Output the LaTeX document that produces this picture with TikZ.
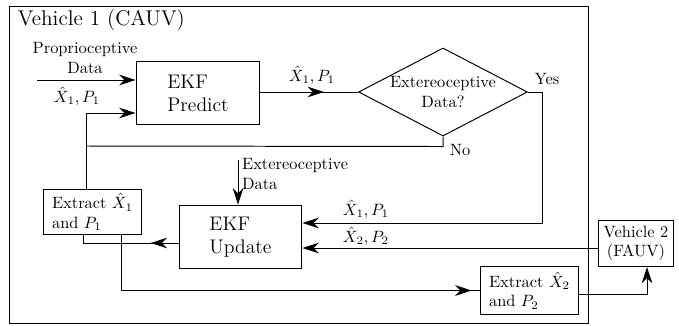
\documentclass[tikz,border=0pt]{standalone}
\usetikzlibrary{arrows.meta,shapes.geometric,decorations.markings}

\tikzset{
  block/.style={draw,rectangle,align=left},
  mid arrow/.style={postaction={decorate},decoration={markings,
    mark=at position #1 with {\arrow{Stealth[length=10pt,width=6.5pt]}}}},
}

\begin{document}
\begin{tikzpicture}[x=0.61pt,y=-0.61pt,semithick,>={Stealth[length=10pt,width=6.5pt]}]
\useasboundingbox (0,0) rectangle (679,325);
\draw (9,6) rectangle (588,323);
\node[anchor=west,font=\fontsize{13}{16}\selectfont] (title) at (12,20) {Vehicle 1 (CAUV)};

% blocks
\node[block,minimum width=75.6pt,minimum height=39pt,font=\large] (predict) at (198,93) {EKF\\Predict};
\node[draw,diamond,aspect=1.9,inner sep=0pt,minimum width=103pt,minimum height=53.7pt,align=center] (dia) at (443,92) {Extereoceptive\\Data?};
\node[block,minimum width=60pt,minimum height=28pt,inner sep=2pt] (extract1) at (92.5,212) {Extract $\hat{X}_1$\\and $P_1$};
\node[block,minimum width=75pt,minimum height=39pt,font=\large] (update) at (240.5,237) {EKF\\Update};
\node[block,minimum width=60pt,minimum height=28.7pt,inner sep=2pt] (extract2) at (529.5,290.5) {Extract $\hat{X}_2$\\and $P_2$};
\node[block,minimum width=46pt,minimum height=27.5pt,align=center] (v2) at (636,243.5) {Vehicle 2\\(FAUV)};

% labels
\node[align=center] (prop) at (85,58) {Proprioceptive\\Data};
\node (xp1a) at (77,96) {$\hat{X}_1, P_1$};
\node (xp1b) at (312,75) {$\hat{X}_1, P_1$};
\node (yes) at (547,79) {Yes};
\node (no) at (460,150) {No};
\node[anchor=west,align=left,inner sep=1pt] (extlab) at (240,174) {Extereoceptive\\Data};
\node (xp1c) at (366,209) {$\hat{X}_1, P_1$};
\node (xp2) at (366,236) {$\hat{X}_2, P_2$};

% helper points
\coordinate (pin) at (37,80);
\coordinate (fb) at (86,113);
\coordinate (nojoin) at (86,146);
\coordinate (yesin) at (542,223);
\coordinate (x2in) at (450,248);
\coordinate (ext) at (238,160);
\coordinate (ux) at (83,243);
\coordinate (ex) at (121,290);
\coordinate (e2v) at (647,294);

% connectors
\draw[->] (pin) -- (pin -| predict.west);
\draw[->] (extract1.north -| fb) -- (fb) -- (fb -| predict.west);
\draw[mid arrow=0.65] (predict.east |- dia.west) -- (dia.west);
\draw (dia.south) -- ++(0,10) -- (nojoin);
\draw[->] (dia.east) -| (yesin) -- (yesin -| update.east);
\draw[->] (v2.west |- x2in) -- (x2in -| update.east);
\draw[->] (ext) -- (ext |- update.north);
\draw[mid arrow=0.27] (ux -| update.west) -| (extract1.south -| ux);
\draw[mid arrow=0.98] (extract1.south -| ex) |- (extract2.west);
\draw[->] (extract2.east |- e2v) -| (e2v |- v2.south);
\end{tikzpicture}
\end{document}
